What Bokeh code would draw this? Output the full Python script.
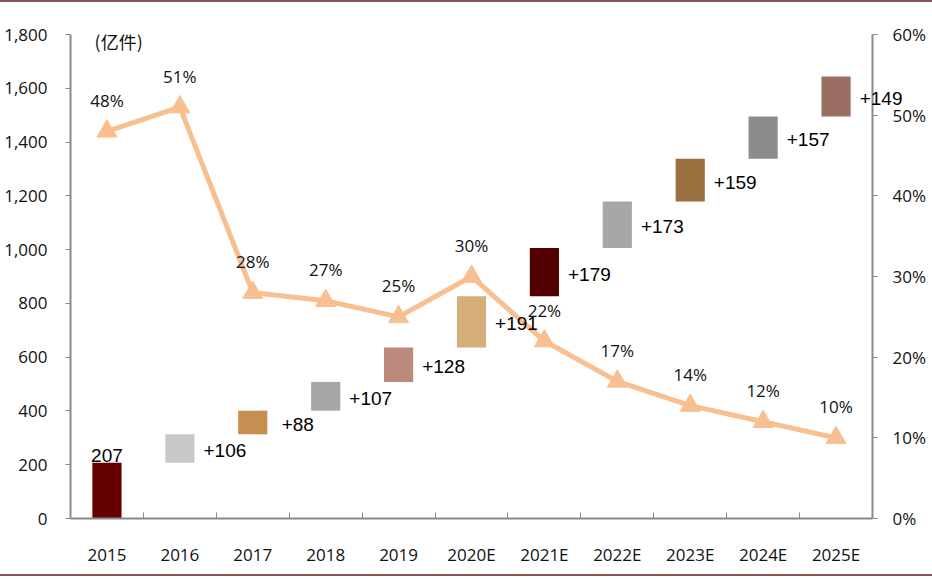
from bokeh.plotting import figure
from bokeh.models import (Range1d, LinearAxis, FixedTicker, NumeralTickFormatter,
                          PrintfTickFormatter, ColumnDataSource, Label)
from bokeh.core.properties import value
from bokeh.embed import file_html
from bokeh.resources import INLINE

# ---- data ----
years = ["2015", "2016", "2017", "2018", "2019", "2020E", "2021E", "2022E", "2023E", "2024E", "2025E"]
increments = [207, 106, 88, 107, 128, 191, 179, 173, 159, 157, 149]
growth_pct = [48, 51, 28, 27, 25, 30, 22, 17, 14, 12, 10]
bar_colors = ["#640000", "#C9C7CA", "#C48F4F", "#A6A6A6", "#BC8A7C", "#D4AE78",
              "#520000", "#A8A6A9", "#9A703E", "#8C8C8C", "#9B6E63"]
unit_label = "(亿件)"

# ---- derived ----
idx = list(range(len(years)))
tops, bottoms, running = [], [], 0
for i, v in enumerate(increments):
    bottoms.append(0 if i == 0 else running)
    running += v
    tops.append(running)
inc_text = [str(v) if i == 0 else "+" + str(v) for i, v in enumerate(increments)]
pct_text = [f"{v}%" for v in growth_pct]
mids = [(b + t) / 2 for b, t in zip(bottoms, tops)]

src = ColumnDataSource(dict(x=idx, top=tops, bottom=bottoms, color=bar_colors,
                            mid=mids, txt=inc_text, pct=growth_pct, pct_txt=pct_text))

p = figure(width=932, height=576, output_backend="svg", toolbar_location=None,
           x_range=Range1d(-0.5, 10.5), y_range=Range1d(0, 1800),
           min_border_left=70, min_border_right=60, min_border_top=32, min_border_bottom=60)
p.extra_y_ranges = {"pct": Range1d(0, 60)}
p.outline_line_color = None
p.grid.visible = False
p.background_fill_color = "white"
p.border_fill_color = "white"
p.styles = {"border-top": "2px solid #8B5555", "border-bottom": "2px solid #8B5555"}

AX = "#8A8A8A"
FONT = "Open Sans"
TXT = "#111111"

# left axis
ya = p.yaxis[0]
ya.ticker = FixedTicker(ticks=list(range(0, 1801, 200)))
ya.formatter = NumeralTickFormatter(format="0,0")
ya.axis_line_color = AX
ya.axis_line_width = 2
ya.major_tick_line_color = AX
ya.major_tick_in = 0
ya.major_tick_out = 5
ya.minor_tick_line_color = None
ya.major_label_standoff = 18
ya.major_label_text_font = FONT
ya.major_label_text_font_size = "17px"
ya.major_label_text_color = TXT

# right axis
ra = LinearAxis(y_range_name="pct", ticker=FixedTicker(ticks=list(range(0, 61, 10))),
                formatter=PrintfTickFormatter(format="%d%%"))
ra.axis_line_color = AX
ra.axis_line_width = 2
ra.major_tick_line_color = AX
ra.major_tick_in = 0
ra.major_tick_out = 5
ra.minor_tick_line_color = None
ra.major_label_standoff = 15
ra.major_label_text_font = FONT
ra.major_label_text_font_size = "17px"
ra.major_label_text_color = TXT
p.add_layout(ra, "right")

# x axis
xa = p.xaxis[0]
xa.ticker = FixedTicker(ticks=idx, minor_ticks=[i + 0.5 for i in idx[:-1]])
xa.major_label_overrides = {i: y for i, y in zip(idx, years)}
xa.axis_line_color = AX
xa.axis_line_width = 2
xa.major_tick_line_color = None
xa.minor_tick_line_color = AX
xa.minor_tick_in = 6
xa.minor_tick_out = 0
xa.major_label_standoff = 18
xa.major_label_text_font = FONT
xa.major_label_text_font_size = "17px"
xa.major_label_text_color = TXT

# bars
p.vbar(x="x", top="top", bottom="bottom", width=0.4, fill_color="color",
       line_color=None, source=src)

# line + markers
p.line(x="x", y="pct", y_range_name="pct", line_color="#F8BF90", line_width=5, source=src)
p.scatter(x="x", y="pct", y_range_name="pct", marker="triangle", size=20,
          fill_color="#F8BF90", line_color="#F8BF90", source=src)

# increment labels
last = idx[-1]
for i in idx:
    if i == 0:
        lab = Label(x=i, y=tops[i], text=inc_text[i], text_align="center",
                    text_baseline="bottom", y_offset=1)
    else:
        lab = Label(x=i, y=mids[i], text=inc_text[i], text_align="center",
                    text_baseline="middle", x_offset=45, y_offset=-2)
    lab.text_font = "Liberation Sans"
    lab.text_font_size = "19px"
    lab.text_color = "#000000"
    # the last label crosses the right axis: keep it in a side panel so it is not clipped
    p.add_layout(lab, "above" if i == last else "center")

# percent labels
p.text(x="x", y="pct", text="pct_txt", y_range_name="pct", source=src, text_align="center",
       text_baseline="middle", text_font=value(FONT), text_font_size="17px",
       text_color=TXT, y_offset=-31)

# unit label
p.add_layout(Label(x=-0.17, y=1774, text=unit_label, text_align="left", text_baseline="middle",
                   text_font="Noto Sans CJK SC", text_font_size="18px", text_color=TXT))

open("out.html", "w").write(file_html(p, INLINE))
